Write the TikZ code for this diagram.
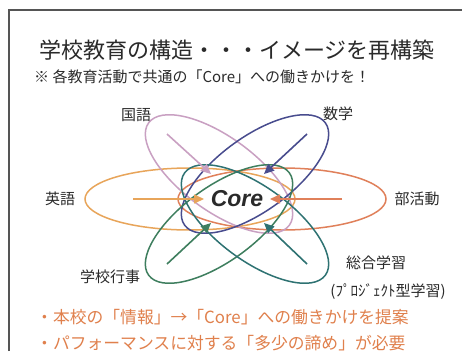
\documentclass[tikz,border=0pt]{standalone}
\usepackage{fontspec}
\setmainfont{Noto Sans CJK JP}
\newfontfamily\corefont{Liberation Sans}
\usetikzlibrary{arrows.meta}
\definecolor{frame}{HTML}{555555}
\definecolor{ink}{HTML}{2A2A2A}
\definecolor{pinkc}{HTML}{C9A0C2}
\definecolor{bluec}{HTML}{484C8E}
\definecolor{tanc}{HTML}{E8A55A}
\definecolor{orgc}{HTML}{E0805A}
\definecolor{greenc}{HTML}{3E7E5E}
\definecolor{tealc}{HTML}{2E7272}
\definecolor{notec}{HTML}{E0804C}
\tikzset{
  ring/.style={line width=1.5pt},
  spoke/.style={line width=1.6pt, -{Triangle[length=10pt,width=9pt]}},
  lbl/.style={font=\fontsize{15}{18}\selectfont, text=ink, inner sep=0pt},
  note/.style={font=\fontsize{16.8}{20}\selectfont, text=notec, inner sep=0pt, anchor=west}
}
\begin{document}
\begin{tikzpicture}[x=1pt,y=-1pt]
\useasboundingbox (0,0) rectangle (462,351);
\fill[white] (0,0) rectangle (462,351);
% frame
\draw[frame, line width=1.5pt] (9,351) -- (9,10) -- (462,10);
% title
\node[inner sep=0pt, text=ink, font=\fontsize{22}{26}\selectfont] (title) at (237,50) {学校教育の構造・・・イメージを再構築};
\node[inner sep=0pt, text=ink, anchor=west, font=\fontsize{15}{17}\selectfont] (sub) at (34,77) {※ 各教育活動で共通の「Core」への働きかけを！};
% rings
\draw[ring, tanc] (190,199) ellipse [x radius=105, y radius=31];
\draw[ring, orgc] (282,199) ellipse [x radius=104, y radius=31];
\draw[ring, pinkc, rotate around={-36:(219,174)}] (219,174) ellipse [x radius=87, y radius=37];
\draw[ring, bluec, rotate around={36:(255,174)}] (255,174) ellipse [x radius=87, y radius=37];
\draw[ring, greenc, rotate around={36:(219,224)}] (219,224) ellipse [x radius=87, y radius=37];
\draw[ring, tealc, rotate around={-36:(255,224)}] (255,224) ellipse [x radius=87, y radius=37];
% core
\node[inner sep=0pt, text=ink, font=\corefont\bfseries\itshape\fontsize{23}{26}\selectfont] (core) at (237,199) {Core};
% spoke coordinates
\coordinate (pS) at (167,134); \coordinate (pE) at (211,174);
\coordinate (bS) at (307,134); \coordinate (bE) at (264,174);
\coordinate (tS) at (133,199); \coordinate (tE) at (204,199);
\coordinate (oS) at (342,199); \coordinate (oE) at (270,199);
\coordinate (gS) at (167,264); \coordinate (gE) at (211,223);
\coordinate (cS) at (307,264); \coordinate (cE) at (264,223);
\draw[spoke, pinkc] (pS) -- (pE);
\draw[spoke, bluec] (bS) -- (bE);
\draw[spoke, tanc] (tS) -- (tE);
\draw[spoke, orgc] (oS) -- (oE);
\draw[spoke, greenc] (gS) -- (gE);
\draw[spoke, tealc] (cS) -- (cE);
% labels
\node[lbl] (kokugo) at (136,115) {国語};
\node[lbl] (sugaku) at (338,114) {数学};
\node[lbl] (eigo) at (60,199) {英語};
\node[lbl] (bukatsu) at (417,199) {部活動};
\node[lbl] (gyoji) at (110,277) {学校行事};
\node[lbl] (sogo) at (376,263) {総合学習};
\node[lbl] (project) at (388,292) {(ﾌﾟﾛｼﾞｪｸﾄ型学習)};
% notes
\node[note] (n1) at (36,317) {・本校の「情報」→「Core」への働きかけを提案};
\node[note] (n2) at (36,343) {・パフォーマンスに対する「多少の諦め」が必要};
\end{tikzpicture}
\end{document}
